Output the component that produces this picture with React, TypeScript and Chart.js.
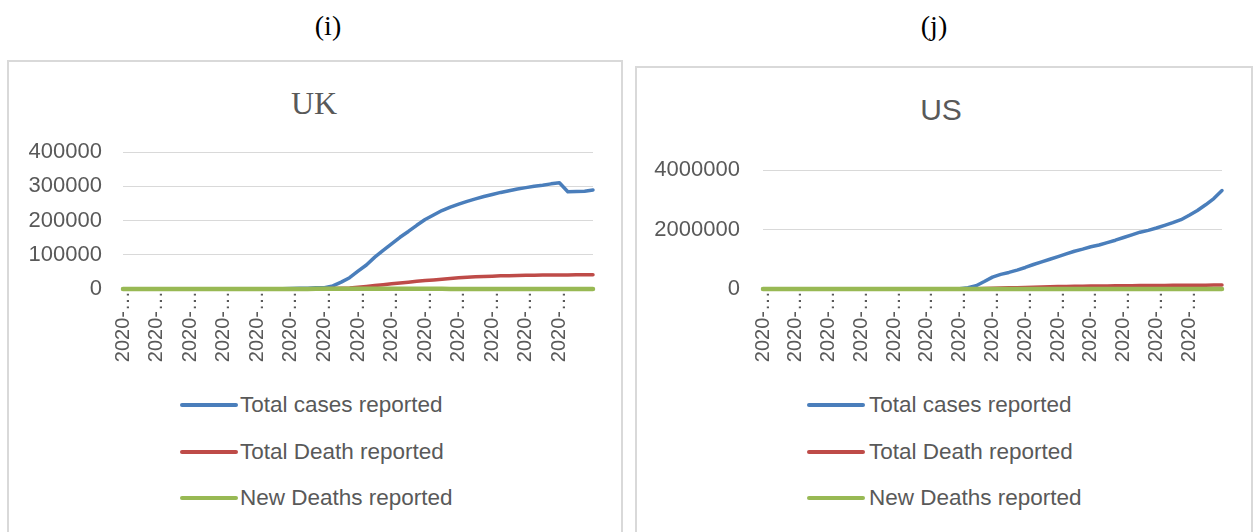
import React, { useEffect, useRef } from "react";
import { Chart, registerables } from "chart.js";

Chart.register(...registerables);

// ---------- data ----------
const DATES = [
  "2020-01-22", "2020-01-25", "2020-01-28", "2020-01-31", "2020-02-03", "2020-02-06", "2020-02-09", "2020-02-12",
  "2020-02-15", "2020-02-18", "2020-02-21", "2020-02-24", "2020-02-27", "2020-03-01", "2020-03-04", "2020-03-07",
  "2020-03-10", "2020-03-13", "2020-03-16", "2020-03-19", "2020-03-22", "2020-03-25", "2020-03-28", "2020-03-31",
  "2020-04-03", "2020-04-06", "2020-04-09", "2020-04-12", "2020-04-15", "2020-04-18", "2020-04-21", "2020-04-24",
  "2020-04-27", "2020-04-30", "2020-05-03", "2020-05-06", "2020-05-09", "2020-05-12", "2020-05-15", "2020-05-18",
  "2020-05-21", "2020-05-24", "2020-05-27", "2020-05-30", "2020-06-02", "2020-06-05", "2020-06-08", "2020-06-11",
  "2020-06-14", "2020-06-17", "2020-06-20", "2020-06-23", "2020-06-26", "2020-06-29", "2020-07-02", "2020-07-05",
  "2020-07-08",
];
const TICK_LABEL = "2020-…";
const TICK_EVERY = 4;
const TICK_COUNT = 14;

const SERIES_NAMES = ["Total cases reported", "Total Death reported", "New Deaths reported"];
const SERIES_COLORS = ["#4a7ebb", "#be4b48", "#98b954"];

const UK_TOTAL_CASES = [
  0, 0, 0, 0, 0, 0, 0, 0, 0, 0, 0, 10, 15, 36, 85, 210,
  380, 300, 600, 1000, 1500, 2000, 2500, 3500, 4000, 9000, 20000, 33000, 52000, 70000, 93000, 113000,
  132000, 151000, 168000, 186000, 203000, 216000, 229000, 239000, 248000, 256000, 263000, 270000, 276000, 282000, 287000, 292000,
  296000, 300000, 303000, 307000, 310000, 284000, 284500, 285500, 289000,
];
const UK_TOTAL_DEATHS = [
  0, 0, 0, 0, 0, 0, 0, 0, 0, 0, 0, 0, 0, 0, 0, 0,
  0, 0, 0, 0, 0, 100, 300, 600, 1000, 1500, 2200, 3000, 5000, 7500, 10000, 12500,
  15000, 17500, 20000, 22500, 24500, 26500, 28500, 30500, 32500, 34500, 35500, 36500, 37500, 38500, 39000, 39500,
  40000, 40300, 40600, 40800, 41000, 41200, 41300, 41400, 41500,
];
const UK_NEW_DEATHS = [
  0, 0, 0, 0, 0, 0, 0, 0, 0, 0, 0, 0, 0, 0, 0, 0,
  0, 0, 0, 0, 0, 40, 180, 380, 600, 900, 950, 750, 800, 850, 800, 700,
  600, 650, 500, 550, 400, 420, 380, 330, 300, 250, 220, 280, 240, 200, 150, 200,
  120, 130, 110, 150, 100, 80, 90, 60, 80,
];

const US_TOTAL_CASES = [
  1, 1, 5, 5, 11, 12, 12, 13, 15, 15, 15, 53, 59, 68, 100, 10,
  30, 80, 200, 500, 1000, 1800, 3000, 5000, 12000, 40000, 110000, 250000, 400000, 490000, 557000, 635000,
  724000, 824000, 914000, 1000000, 1090000, 1180000, 1270000, 1340000, 1420000, 1480000, 1560000, 1640000, 1730000, 1820000, 1910000, 1970000,
  2050000, 2140000, 2230000, 2330000, 2480000, 2640000, 2830000, 3040000, 3310000,
];
const US_TOTAL_DEATHS = [
  0, 0, 0, 0, 0, 0, 0, 0, 0, 0, 0, 0, 0, 0, 0, 0,
  0, 0, 0, 0, 0, 0, 0, 500, 2000, 5000, 10000, 16000, 22000, 30000, 38000, 45000,
  52000, 60000, 68000, 74000, 80000, 85000, 90000, 94000, 97000, 100000, 103000, 106000, 108000, 112000, 114000, 116000,
  118000, 120000, 122000, 124000, 126000, 128000, 130000, 132000, 135000,
];
const US_NEW_DEATHS = [
  0, 0, 0, 0, 0, 0, 0, 0, 0, 0, 0, 0, 0, 0, 0, 0,
  0, 5, 20, 60, 120, 250, 500, 900, 1200, 1800, 1900, 2000, 2400, 1900, 2100, 2500,
  1500, 2000, 1600, 2200, 1700, 1500, 1600, 1100, 1500, 1100, 800, 1200, 1000, 900, 600, 850,
  750, 700, 600, 800, 650, 500, 700, 450, 900,
];

const UK_Y_TICKS = [0, 100000, 200000, 300000, 400000];
const US_Y_TICKS = [0, 2000000, 4000000];

// ---------- styling ----------
const SANS = "'Liberation Sans', Arial, sans-serif";
const SERIF = "'Liberation Serif', 'Times New Roman', serif";
const TEXT_GREY = "#595959";
const GRID_GREY = "#d9d9d9";

type Rect = { left: number; top: number; right: number; bottom: number };

type PanelProps = {
  title: string;
  titleFamily: string;
  titleSize: number;
  titleCx: number;
  titleCy: number;
  box: { left: number; top: number; width: number };
  canvas: { left: number; top: number; width: number; height: number };
  plot: Rect; // page coordinates of the plot area
  yTicks: number[];
  yPad: number;
  series: number[][];
  legend: { lineLeft: number; textLeft: number; rows: number[] };
};

function Panel(p: PanelProps) {
  const ref = useRef<HTMLCanvasElement | null>(null);

  useEffect(() => {
    if (!ref.current) return;
    const { plot, canvas } = p;
    const padR = canvas.left + canvas.width - plot.right;
    const padT = plot.top - canvas.top;
    const yWidth = plot.left - canvas.left;
    const xHeight = canvas.top + canvas.height - plot.bottom;

    const chart = new Chart(ref.current, {
      type: "line",
      data: {
        labels: DATES,
        datasets: p.series.map((d, i) => ({
          label: SERIES_NAMES[i],
          data: d,
          borderColor: SERIES_COLORS[i],
          backgroundColor: SERIES_COLORS[i],
          borderWidth: i === 2 ? 4.5 : 3.5,
          pointRadius: 0,
          pointHoverRadius: 0,
          tension: 0,
          fill: false,
          clip: false,
          borderCapStyle: "round",
          borderJoinStyle: "round",
          order: 3 - i,
        })),
      },
      options: {
        animation: false,
        responsive: false,
        maintainAspectRatio: false,
        events: [],
        layout: { padding: { left: 0, top: padT, right: padR, bottom: 0 } },
        plugins: {
          legend: { display: false },
          tooltip: { enabled: false },
          title: { display: false },
        },
        scales: {
          x: {
            type: "category",
            offset: false,
            grid: { display: false, drawTicks: false },
            border: { display: true, color: GRID_GREY, width: 1 },
            ticks: {
              autoSkip: false,
              minRotation: 90,
              maxRotation: 90,
              padding: 2,
              color: TEXT_GREY,
              font: { family: SANS, size: 20 },
              callback: (_v: any, idx: number) =>
                idx % TICK_EVERY === 0 && idx / TICK_EVERY < TICK_COUNT ? TICK_LABEL : "",
            },
            afterFit: (s: any) => {
              s.height = xHeight;
            },
          },
          y: {
            min: p.yTicks[0],
            max: p.yTicks[p.yTicks.length - 1],
            grid: { color: GRID_GREY, lineWidth: 1, drawTicks: false },
            border: { display: false },
            ticks: {
              stepSize: p.yTicks[1] - p.yTicks[0],
              padding: p.yPad,
              color: TEXT_GREY,
              font: { family: SANS, size: 22 },
              callback: (v: any) => String(v),
            },
            afterFit: (s: any) => {
              s.width = yWidth;
            },
          },
        },
      },
    });
    return () => chart.destroy();
  }, []);

  return (
    <>
      <div
        style={{
          position: "absolute",
          left: p.box.left,
          top: p.box.top,
          width: p.box.width,
          height: 600,
          boxSizing: "border-box",
          border: `2px solid ${GRID_GREY}`,
          background: "#fff",
        }}
      />
      <div
        style={{
          position: "absolute",
          left: p.titleCx - 100,
          width: 200,
          top: p.titleCy - p.titleSize / 2,
          height: p.titleSize,
          lineHeight: `${p.titleSize}px`,
          textAlign: "center",
          fontFamily: p.titleFamily,
          fontSize: p.titleSize,
          color: TEXT_GREY,
          whiteSpace: "nowrap",
        }}
      >
        {p.title}
      </div>
      <canvas
        ref={ref}
        width={p.canvas.width}
        height={p.canvas.height}
        style={{
          position: "absolute",
          left: p.canvas.left,
          top: p.canvas.top,
          width: p.canvas.width,
          height: p.canvas.height,
        }}
      />
      {SERIES_NAMES.map((name, i) => (
        <React.Fragment key={name}>
          <div
            style={{
              position: "absolute",
              left: p.legend.lineLeft,
              top: p.legend.rows[i] - 2,
              width: 58,
              height: 4,
              borderRadius: 2,
              background: SERIES_COLORS[i],
            }}
          />
          <div
            style={{
              position: "absolute",
              left: p.legend.textLeft,
              top: p.legend.rows[i] - 13,
              height: 26,
              lineHeight: "26px",
              fontFamily: SANS,
              fontSize: 22.5,
              color: TEXT_GREY,
              whiteSpace: "nowrap",
            }}
          >
            {name}
          </div>
        </React.Fragment>
      ))}
    </>
  );
}

function Caption({ text, cx }: { text: string; cx: number }) {
  return (
    <div
      style={{
        position: "absolute",
        left: cx - 40,
        width: 80,
        top: 8,
        height: 36,
        lineHeight: "36px",
        textAlign: "center",
        fontFamily: SERIF,
        fontSize: 28,
        color: "#000",
      }}
    >
      {text}
    </div>
  );
}

export default function App() {
  return (
    <div
      style={{
        position: "fixed",
        left: 0,
        top: 0,
        width: 1254,
        height: 532,
        overflow: "hidden",
        background: "#fff",
      }}
    >
      <Caption text="(i)" cx={328} />
      <Caption text="(j)" cx={934} />
      <Panel
        title="UK"
        titleFamily={SERIF}
        titleSize={32}
        titleCx={314}
        titleCy={103}
        box={{ left: 7, top: 60, width: 616 }}
        canvas={{ left: 9, top: 62, width: 612, height: 318 }}
        plot={{ left: 123, top: 152, right: 593, bottom: 289 }}
        yTicks={UK_Y_TICKS}
        yPad={21}
        series={[UK_TOTAL_CASES, UK_TOTAL_DEATHS, UK_NEW_DEATHS]}
        legend={{ lineLeft: 180, textLeft: 240, rows: [405, 452, 498] }}
      />
      <Panel
        title="US"
        titleFamily={SANS}
        titleSize={30}
        titleCx={941}
        titleCy={110}
        box={{ left: 635, top: 66, width: 618 }}
        canvas={{ left: 637, top: 68, width: 613, height: 312 }}
        plot={{ left: 763, top: 170, right: 1222, bottom: 289 }}
        yTicks={US_Y_TICKS}
        yPad={23}
        series={[US_TOTAL_CASES, US_TOTAL_DEATHS, US_NEW_DEATHS]}
        legend={{ lineLeft: 807, textLeft: 869, rows: [405, 452, 498] }}
      />
    </div>
  );
}
